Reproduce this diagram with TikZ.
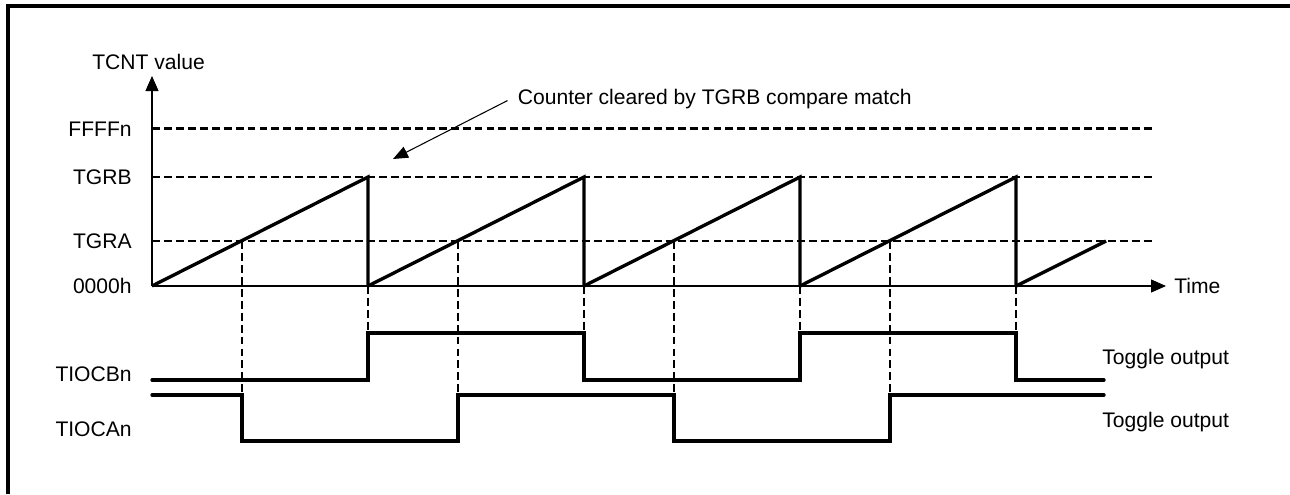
\documentclass[tikz,border=0pt]{standalone}
\usepackage{fontspec}
\setmainfont{Liberation Sans}
\usetikzlibrary{arrows.meta}

\begin{document}
\begin{tikzpicture}[x=0.02cm,y=-0.02cm,
    every node/.style={font=\fontsize{12}{14}\selectfont,inner sep=0pt},
    lbl/.style={anchor=base east},
    rlbl/.style={anchor=base west},
    axis/.style={line width=0.6pt,-{Triangle[length=0.3cm,width=0.26cm]}},
    pointer/.style={line width=0.6pt,-{Triangle[length=0.3cm,width=0.24cm]}},
    guide/.style={line width=1.25pt,dash pattern=on 4.5pt off 2.3pt},
    wave/.style={line width=1.9pt,line cap=round}]
      \useasboundingbox (0,0) rectangle (1290,494);
      \draw[line width=2pt] (8,494) -- (8,6) -- (1290,6);
      % axes
      \coordinate (o) at (152,286);
      \coordinate (ytop) at (152,76);
      \coordinate (xend) at (1166,286);
      \node[rlbl] (tcnt) at (92,69.5) {TCNT value};
      \node[lbl] (zero) at (132,293.5) {0000h};
      \node[rlbl] (time) at (1174,293.5) {Time};
      % compare levels
      \foreach \nm/\yy/\txt in {ffff/128.5/FFFFn,tgrb/177/TGRB,tgra/241/TGRA}{
        \draw[guide] (152,\yy) -- (1155,\yy);
        \node[lbl] (\nm) at (132,{\yy+7.5}) {\txt};
      }
      \draw[axis] (o) -- (ytop);
      \draw[axis] (o) -- (xend);
      % counter
      \foreach \s in {152,368,584,800}
        \draw[wave,line cap=butt] (\s,286) -- ({\s+216},177) -- ({\s+216},286);
      \draw[wave,line cap=butt] (1016,286) -- (1106,241);
      % match lines
      \foreach \s in {242,458,674,890}
        \draw[guide] (\s,241) -- (\s,395);
      \foreach \s in {368,584,800,1016}
        \draw[guide] (\s,286) -- (\s,333);
      % outputs
      \node[lbl] (tiocb) at (132,381.5) {TIOCBn};
      \node[lbl] (tioca) at (132,436.5) {TIOCAn};
      \draw[wave] (152,380) -- (368,380) -- (368,333) -- (584,333) -- (584,380)
        -- (800,380) -- (800,333) -- (1016,333) -- (1016,380) -- (1104,380);
      \draw[wave] (152,395) -- (242,395) -- (242,441) -- (458,441) -- (458,395)
        -- (674,395) -- (674,441) -- (890,441) -- (890,395) -- (1104,395);
      \node[rlbl] (togb) at (1102,364) {Toggle output};
      \node[rlbl] (toga) at (1102,427) {Toggle output};
      % note
      \node[rlbl] (note) at (517.5,104) {Counter cleared by TGRB compare match};
      \coordinate (cleared) at (393,159);
      \draw[pointer] ([xshift=-0.2cm,yshift=-0.04cm]note.west) -- (cleared);
    \end{tikzpicture}
\end{document}
